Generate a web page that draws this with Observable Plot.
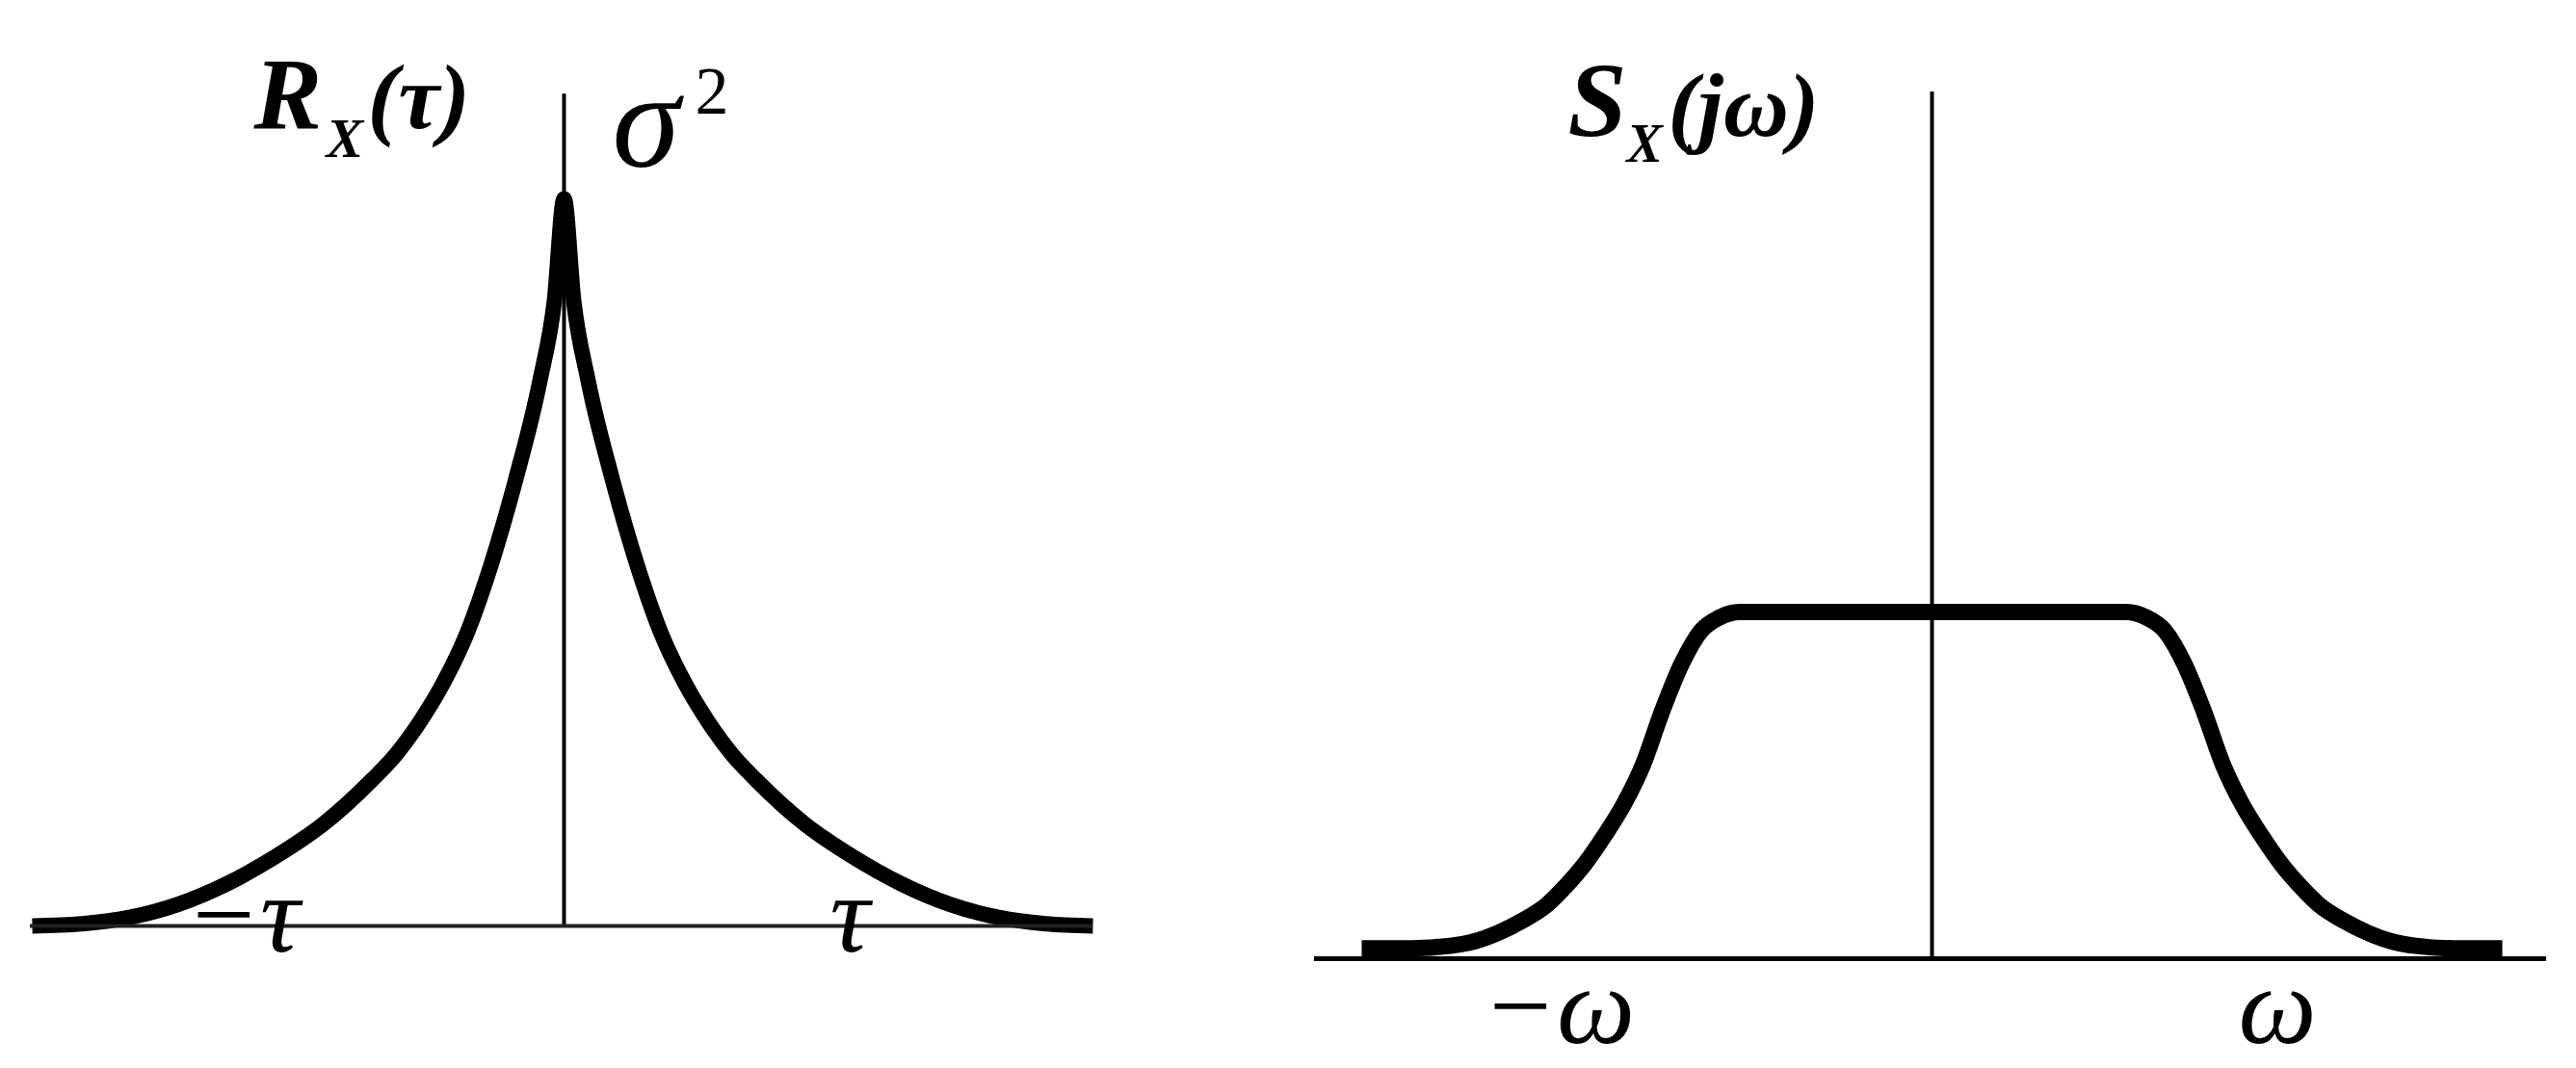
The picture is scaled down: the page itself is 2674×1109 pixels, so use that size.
<!DOCTYPE html>
<html>
<head>
<meta charset="utf-8">
<script src="https://cdn.jsdelivr.net/npm/d3@7"></script>
<script src="https://cdn.jsdelivr.net/npm/@observablehq/plot@0.6"></script>
<style>
  html, body { margin: 0; padding: 0; background: #fff; }
  #wrap { position: relative; width: 2674px; height: 1109px; overflow: hidden; background: #fff; }
  #wrap > div { position: absolute; top: 0; }
  #left { left: 0; }
  #right { left: 1300px; }
  svg text { font-family: "Liberation Serif", "Times New Roman", Times, serif !important; }
</style>
</head>
<body>
<div id="wrap"><div id="left"></div><div id="right"></div></div>
<script>
// ---- Left panel: autocorrelation R_X(tau) ----
const tau = [-5.52, -5.0, -4.5, -4.0, -3.5, -3.0, -2.5, -2.0, -1.75, -1.5, -1.25, -1.0, -0.75, -0.5, -0.25, -0.1, 0,
             0.1, 0.25, 0.5, 0.75, 1.0, 1.25, 1.5, 1.75, 2.0, 2.5, 3.0, 3.5, 4.0, 4.5, 5.0, 5.49];
const R   = [0.0, 0.003, 0.012, 0.03, 0.058, 0.095, 0.14, 0.20, 0.235, 0.28, 0.335, 0.405, 0.50, 0.615, 0.75, 0.86, 1.0,
             0.86, 0.75, 0.615, 0.50, 0.405, 0.335, 0.28, 0.235, 0.20, 0.14, 0.095, 0.058, 0.03, 0.012, 0.003, 0.0];

// ---- Right panel: power spectral density S_X(j omega) ----
const omega = [-5.92, -5.4, -5.0, -4.75, -4.5, -4.25, -4.0, -3.8, -3.6, -3.4, -3.2, -3.0, -2.8, -2.6, -2.4, -2.2, -2.0,
               2.02, 2.22, 2.42, 2.62, 2.82, 3.02, 3.22, 3.42, 3.62, 3.82, 4.02, 4.27, 4.52, 4.77, 5.02, 5.42, 5.92];
const S     = [0.03, 0.03, 0.037, 0.05, 0.075, 0.11, 0.155, 0.21, 0.275, 0.355, 0.445, 0.56, 0.715, 0.85, 0.945, 0.985, 1.0,
               1.0, 0.985, 0.945, 0.85, 0.715, 0.56, 0.445, 0.355, 0.275, 0.21, 0.155, 0.11, 0.075, 0.05, 0.037, 0.03, 0.03];

// axis extents (data units)
const leftAxis  = {xMin: -5.54, xMax: 5.49, yTop: 1.144};
const rightAxis = {xMin: -6.41, xMax: 6.38, yTop: 2.5};

// label texts
const leftLabels  = ["R", "X", "(τ)", "σ", "2", "−τ", "τ"];
const rightLabels = ["S", "X", "(jω)", "−ω", "ω"];

// ---- layout: placement of labels (data units) and type styles ----
const FONT = "'Liberation Serif', 'Times New Roman', Times, serif";
const leftPlace = [
  {x: -3.22, y: 1.097, size: 106, weight: "bold",   style: "italic"},
  {x: -2.47, y: 1.058, size: 58,  weight: "bold",   style: "italic"},
  {x: -2.04, y: 1.097, size: 96,  weight: "bold",   style: "italic"},
  {x:  0.50, y: 1.045, size: 142, weight: "normal", style: "italic"},
  {x:  1.36, y: 1.117, size: 70,  weight: "normal", style: "normal"},
  {x: -3.93, y: -0.035, size: 115, weight: "normal", style: "italic"},
  {x:  2.76, y: -0.035, size: 115, weight: "normal", style: "italic"}
];
const rightPlace = [
  {x: -3.78, y: 2.375, size: 110, weight: "bold",   style: "italic"},
  {x: -3.17, y: 2.300, size: 56,  weight: "bold",   style: "italic"},
  {x: -2.74, y: 2.375, size: 94,  weight: "bold",   style: "italic"},
  {x: -4.67, y: -0.242, size: 115, weight: "normal", style: "italic"},
  {x:  3.18, y: -0.242, size: 115, weight: "normal", style: "italic"}
];

function labelMarks(texts, place) {
  return texts.map((t, i) => {
    const p = place[i];
    return Plot.text([t], {
      x: () => p.x, y: () => p.y, text: d => d,
      fontSize: p.size, fontWeight: p.weight, fontStyle: p.style,
      fontFamily: FONT, textAnchor: "start", lineAnchor: "bottom", fill: "#000"
    });
  });
}

const leftData = tau.map((t, i) => ({t, r: R[i]}));
const rightData = omega.map((w, i) => ({w, s: S[i]}));

const left = Plot.plot({
  width: 1300, height: 1109,
  marginLeft: 0, marginRight: 0, marginTop: 0, marginBottom: 0,
  x: {domain: [-5.85, 7.15], range: [0, 1300], axis: null},
  y: {domain: [0, 1], range: [961, 206], axis: null},
  style: {background: "#fff"},
  marks: [
    Plot.line(leftData, {x: "t", y: "r", stroke: "#000", strokeWidth: 16, curve: "monotone-x",
                         strokeLinejoin: "round", strokeLinecap: "butt"}),
    Plot.ruleX([0], {y1: 0, y2: leftAxis.yTop, stroke: "#000", strokeWidth: 4}),
    Plot.ruleY([0], {x1: leftAxis.xMin, x2: leftAxis.xMax, stroke: "#222", strokeWidth: 4}),
    ...labelMarks(leftLabels, leftPlace)
  ]
});

const right = Plot.plot({
  width: 1374, height: 1109,
  marginLeft: 0, marginRight: 0, marginTop: 0, marginBottom: 0,
  x: {domain: [-7.05, 6.69], range: [0, 1374], axis: null},
  y: {domain: [0, 1], range: [995, 635], axis: null},
  style: {background: "#fff"},
  marks: [
    Plot.line(rightData, {x: "w", y: "s", stroke: "#000", strokeWidth: 17, curve: "monotone-x",
                          strokeLinejoin: "round", strokeLinecap: "butt"}),
    Plot.ruleX([0], {y1: 0, y2: rightAxis.yTop, stroke: "#000", strokeWidth: 4}),
    Plot.ruleY([0], {x1: rightAxis.xMin, x2: rightAxis.xMax, stroke: "#000", strokeWidth: 5}),
    ...labelMarks(rightLabels, rightPlace)
  ]
});

document.getElementById("left").appendChild(left);
document.getElementById("right").appendChild(right);
</script>
</body>
</html>
